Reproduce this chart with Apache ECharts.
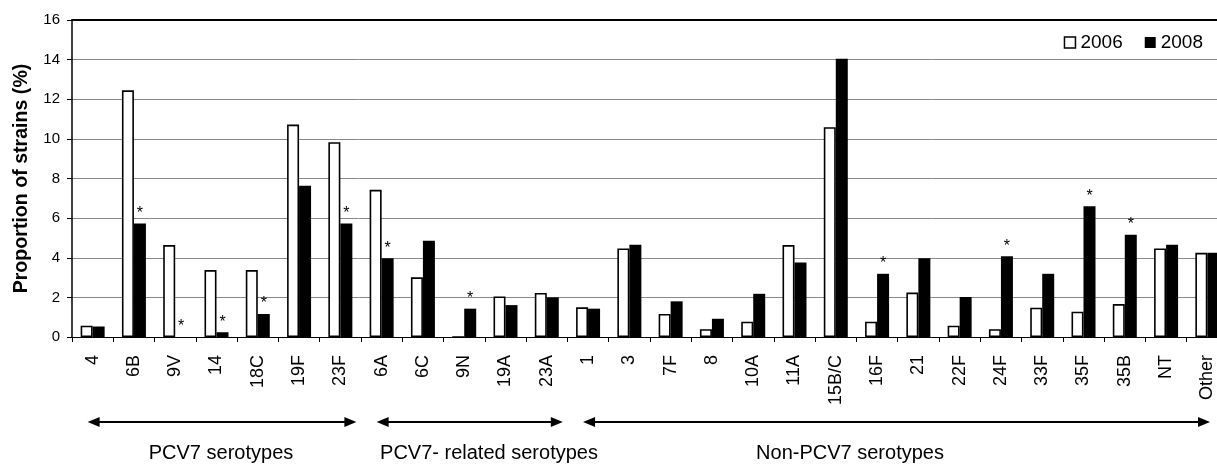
<!DOCTYPE html>
<html>
<head>
<meta charset="utf-8">
<script src="https://cdn.jsdelivr.net/npm/echarts@6/dist/echarts.min.js"></script>
<style>
  html, body { margin: 0; padding: 0; background: #fff; }
  #chart { width: 1217px; height: 464px; }
</style>
</head>
<body>
<div id="chart"></div>
<script>
const categories = ['4', '6B', '9V', '14', '18C', '19F', '23F', '6A', '6C', '9N', '19A', '23A', '1', '3', '7F', '8', '10A', '11A', '15B/C', '16F', '21', '22F', '24F', '33F', '35F', '35B', 'NT', 'Other']
const y2006 = [0.57, 12.45, 4.64, 3.38, 3.38, 10.72, 9.83, 7.43, 3.01, 0, 2.05, 2.22, 1.5, 4.47, 1.16, 0.39, 0.77, 4.64, 10.59, 0.77, 2.24, 0.57, 0.39, 1.48, 1.28, 1.66, 4.47, 4.25]
const y2008 = [0.53, 5.73, 0, 0.24, 1.16, 7.63, 5.73, 3.98, 4.86, 1.43, 1.61, 2.0, 1.43, 4.66, 1.8, 0.92, 2.18, 3.76, 14.05, 3.19, 3.98, 2.02, 4.08, 3.19, 6.6, 5.16, 4.66, 4.25]
// significance marks over the 2008 bars
const stars = ['', '*', '*', '*', '*', '', '*', '*', '', '*', '', '', '', '', '', '', '', '', '', '*', '', '', '*', '', '*', '*', '', '']
const groupNames = ['PCV7 serotypes', 'PCV7- related serotypes', 'Non-PCV7 serotypes']
const groupFrom = [0, 7, 12]
const groupTo = [6, 11, 27]

const font = '"Liberation Sans", Arial, Helvetica, sans-serif'
const chart = echarts.init(document.getElementById('chart'))

const option = {
  animation: false,
  textStyle: { fontFamily: font, color: '#000' },
  legend: {
    data: [
      { name: '2006', icon: 'rect', itemStyle: { color: '#fff', borderColor: '#000', borderWidth: 1.5 } },
      { name: '2008', icon: 'rect', itemStyle: { color: '#000', borderWidth: 0 } }
    ],
    right: 9,
    top: 28,
    itemWidth: 11,
    itemHeight: 11,
    itemGap: 22,
    textStyle: { fontFamily: font, fontSize: 19, color: '#000' }
  },
  // keep the plot where the reference has it, even if labels run off the canvas
  grid: { left: 72, top: 20, width: 1156, height: 317, outerBoundsMode: 'none' },
  xAxis: [
    {
      type: 'category',
      data: categories,
      axisLine: { lineStyle: { color: '#000', width: 1 } },
      axisTick: { show: true, length: 5, lineStyle: { color: '#000' } },
      axisLabel: { rotate: 90, fontSize: 18, color: '#000', margin: 18, fontFamily: font, interval: 0 }
    },
    {
      type: 'category',
      position: 'top',
      data: categories,
      axisLine: { lineStyle: { color: '#000', width: 2 } },
      axisTick: { show: false },
      axisLabel: { show: false }
    }
  ],
  yAxis: {
    type: 'value',
    min: 0,
    max: 16,
    interval: 2,
    name: 'Proportion of strains (%)',
    nameLocation: 'middle',
    nameGap: 40,
    nameTextStyle: { fontSize: 19.6, fontWeight: 'bold', color: '#000', fontFamily: font },
    axisLine: { show: true, lineStyle: { color: '#000', width: 1.5 } },
    axisTick: { show: true, length: 5, lineStyle: { color: '#000' } },
    axisLabel: { fontSize: 15, color: '#000', margin: 12, fontFamily: font },
    splitLine: { lineStyle: { color: '#888', width: 1 } }
  },
  series: [
    {
      name: '2006',
      type: 'bar',
      data: y2006,
      barWidth: 12,
      barGap: '0%',
      itemStyle: { color: '#fff', borderColor: '#000', borderWidth: 1.6 }
    },
    {
      name: '2008',
      type: 'bar',
      data: y2008,
      barWidth: 12,
      itemStyle: { color: '#000' },
      label: {
        show: true,
        position: 'top',
        distance: 2,
        fontSize: 16,
        color: '#000',
        formatter: p => stars[p.dataIndex]
      }
    }
  ]
}
chart.setOption(option)

// group arrows under the category labels
const arrowY = 422
const textX = [221, 489, 850]
const graphics = []
for (let i = 0; i < groupNames.length; i++) {
  const x1 = chart.convertToPixel({ xAxisIndex: 0 }, groupFrom[i]) - 5
  const xe = Math.min(chart.convertToPixel({ xAxisIndex: 0 }, groupTo[i]) + 16, 1210)
  graphics.push({
    type: 'line',
    shape: { x1: x1 + 6, y1: arrowY, x2: xe - 6, y2: arrowY },
    style: { stroke: '#000', lineWidth: 2 }
  })
  graphics.push({
    type: 'polygon',
    shape: { points: [[x1, arrowY], [x1 + 12, arrowY - 5], [x1 + 12, arrowY + 5]] },
    style: { fill: '#000' }
  })
  graphics.push({
    type: 'polygon',
    shape: { points: [[xe, arrowY], [xe - 12, arrowY - 5], [xe - 12, arrowY + 5]] },
    style: { fill: '#000' }
  })
  graphics.push({
    type: 'text',
    x: textX[i],
    y: 453,
    style: {
      text: groupNames[i],
      fontSize: 20,
      fontFamily: font,
      fill: '#000',
      align: 'center',
      verticalAlign: 'middle'
    }
  })
}
chart.setOption({ graphic: graphics })
</script>
</body>
</html>
